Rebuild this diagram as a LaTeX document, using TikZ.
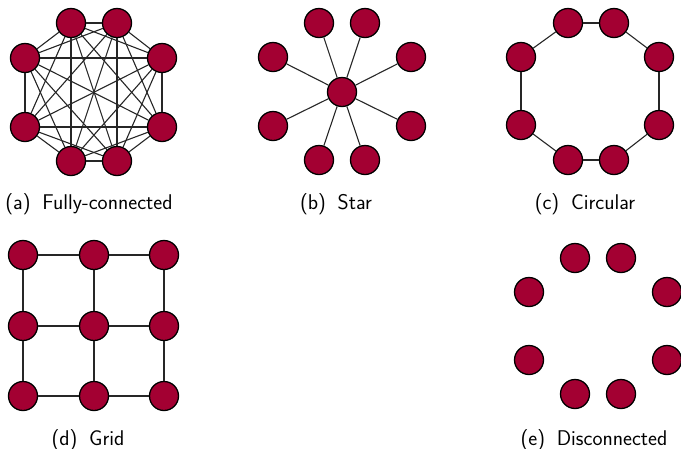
\documentclass[tikz,border=0pt]{standalone}
\usepackage{fontspec}
\definecolor{nodered}{RGB}{163,0,50}
\tikzset{
  vtx/.style={circle, draw=black, fill=nodered, line width=1.3pt, minimum size=29pt, inner sep=0pt},
  edge/.style={line width=1.1pt, draw=black!85},
  captext/.style={anchor=base, font=\sffamily\fontsize{21.3}{25}\selectfont, inner sep=0pt}
}
\begin{document}
\begin{tikzpicture}[x=1pt,y=-1pt]
\useasboundingbox (0,0) rectangle (681,448);
% (a) fully connected
\foreach \n/\x/\y in {1/71/23,2/117/23,3/162/58,4/162/127,5/117/161,6/71/161,7/25/127,8/25/58}
  \node[vtx] (a\n) at (\x,\y) {};
\foreach \i in {1,...,8}{
  \foreach \j in {1,...,8}{
    \ifnum\i<\j \draw[edge] (a\i) -- (a\j); \fi
  }
}
\node[captext] (capa) at (89,209) {(a)\hspace{0.55em}Fully-connected};
% (b) star
\node[vtx] (sc) at (342,92) {};
\foreach \n/\x/\y in {1/319/23,2/365/23,3/411/57,4/411/126,5/365/160,6/319/160,7/273/126,8/273/57}{
  \node[vtx] (s\n) at (\x,\y) {};
  \draw[edge] (sc) -- (s\n);
}
\node[captext] (capb) at (336,209) {(b)\hspace{0.55em}Star};
% (c) circular
\foreach \n/\x/\y in {1/568/23,2/614/23,3/659/57,4/659/125,5/614/160,6/568/160,7/521/125,8/521/57}
  \node[vtx] (c\n) at (\x,\y) {};
\foreach \i/\j in {1/2,2/3,3/4,4/5,5/6,6/7,7/8,8/1}
  \draw[edge] (c\i) -- (c\j);
\node[captext] (capc) at (585,209) {(c)\hspace{0.55em}Circular};
% (d) grid
\foreach \r/\y in {1/255,2/326,3/396}{
  \foreach \c/\x in {1/23,2/94,3/164}{
    \node[vtx] (g\r\c) at (\x,\y) {};
  }
}
\foreach \r in {1,2,3}{
  \draw[edge] (g\r1) -- (g\r2);
  \draw[edge] (g\r2) -- (g\r3);
}
\foreach \c in {1,2,3}{
  \draw[edge] (g1\c) -- (g2\c);
  \draw[edge] (g2\c) -- (g3\c);
}
\node[captext] (capd) at (88,445) {(d)\hspace{0.55em}Grid};
% (e) disconnected
\foreach \n/\x/\y in {1/575/258,2/621/258,3/667/292,4/667/360,5/621/394,6/575/394,7/529/360,8/529/292}
  \node[vtx] (e\n) at (\x,\y) {};
\node[captext] (cape) at (594,445) {(e)\hspace{0.55em}Disconnected};
\end{tikzpicture}
\end{document}
